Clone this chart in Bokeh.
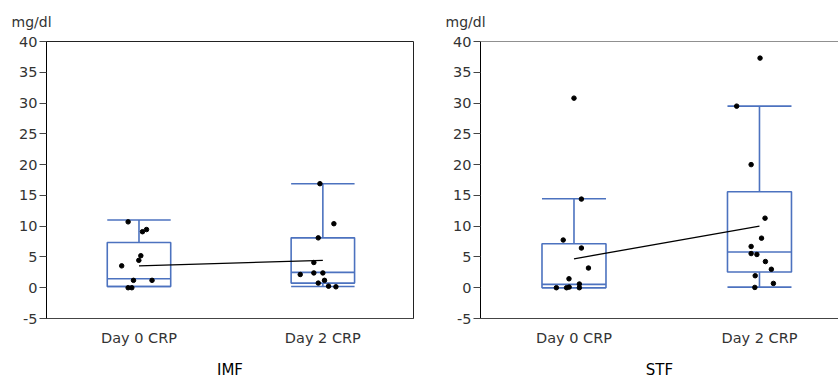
from bokeh.plotting import figure
from bokeh.models import Range1d, FixedTicker, Span
from bokeh.layouts import row
from bokeh.embed import file_html
from bokeh.resources import INLINE

# ---------------- data ----------------
categories = ["Day 0 CRP", "Day 2 CRP"]
y_ticks = [-5, 0, 5, 10, 15, 20, 25, 30, 35, 40]
unit_label = "mg/dl"
group_names = ["IMF", "STF"]

# individual values (mg/dl) and horizontal jitter (category units)
imf_day0 = [10.7, 9.1, 9.45, 5.2, 4.45, 3.55, 1.2, 1.2, 0.0, 0.0]
imf_day0_jit = [-0.059, 0.019, 0.041, 0.010, -0.001, -0.094, -0.030, 0.071, -0.059, -0.039]
imf_day2 = [16.9, 10.4, 8.1, 4.1, 2.15, 2.4, 2.4, 1.2, 0.75, 0.25, 0.15]
imf_day2_jit = [-0.016, 0.060, -0.025, -0.049, -0.123, -0.049, 0.0, 0.009, -0.025, 0.031, 0.071]

stf_day0 = [30.8, 14.4, 7.75, 6.45, 3.2, 1.45, 0.6, 0.0, 0.0, 0.1, 0.0]
stf_day0_jit = [0.0, 0.040, -0.058, 0.040, 0.078, -0.027, 0.029, -0.095, -0.040, -0.026, 0.029]
stf_day2 = [37.3, 29.5, 20.0, 11.3, 8.05, 6.7, 5.55, 5.4, 4.25, 3.0, 1.95, 0.7, 0.05]
stf_day2_jit = [0.003, -0.123, -0.045, 0.030, 0.011, -0.045, -0.045, -0.014, 0.032, 0.064, -0.023, 0.075, -0.025]

# box statistics per category
imf_q1 = [0.2, 0.75]
imf_med = [1.45, 2.5]
imf_q3 = [7.35, 8.1]
imf_lo = [0.2, 0.2]
imf_hi = [11.0, 16.9]
imf_mean = [3.55, 4.45]

stf_q1 = [0.0, 2.55]
stf_med = [0.55, 5.8]
stf_q3 = [7.15, 15.6]
stf_lo = [0.0, 0.1]
stf_hi = [14.45, 29.5]
stf_mean = [4.7, 10.0]

# ---------------- style ----------------
BLUE = "#4C72BF"
FONT = "DejaVu Sans"
BOX_W = 0.345


def make_panel(name, d0, j0, d2, j2, q1, med, q3, lo, hi, mean,
               width, x_start, x_end, border_left, border_right, outline):
    p = figure(width=width, height=381,
               x_range=Range1d(x_start, x_end), y_range=Range1d(-5, 40),
               output_backend="svg", toolbar_location=None,
               min_border_left=border_left, min_border_right=border_right,
               min_border_top=41, min_border_bottom=61,
               title=unit_label)
    p.background_fill_color = "white"
    p.border_fill_color = "white"
    p.grid.visible = False
    if outline:
        p.outline_line_color = "#222222"
        p.outline_line_width = 1
    else:
        p.outline_line_color = None
        p.add_layout(Span(location=40, dimension="width", line_color="#222222", line_width=1))

    p.title.text_font = FONT
    p.title.text_font_size = "14px"
    p.title.text_font_style = "normal"
    p.title.text_color = "#333333"
    p.title.align = "left"
    p.title.offset = -35
    p.title.standoff = 23

    xs = list(range(len(categories)))
    half = BOX_W / 2

    # whiskers
    p.segment(x0=xs, y0=q3, x1=xs, y1=hi, line_color=BLUE, line_width=1.6)
    p.segment(x0=xs, y0=q1, x1=xs, y1=lo, line_color=BLUE, line_width=1.6)
    p.segment(x0=[x - half for x in xs], y0=hi, x1=[x + half for x in xs], y1=hi,
              line_color=BLUE, line_width=1.6)
    p.segment(x0=[x - half for x in xs], y0=lo, x1=[x + half for x in xs], y1=lo,
              line_color=BLUE, line_width=1.6)
    # boxes
    p.vbar(x=xs, top=q3, bottom=q1, width=BOX_W, fill_color=None,
           line_color=BLUE, line_width=1.6)
    p.segment(x0=[x - half for x in xs], y0=med, x1=[x + half for x in xs], y1=med,
              line_color=BLUE, line_width=1.6)

    # mean line
    p.line(x=xs, y=mean, line_color="black", line_width=1.3)

    # points
    px = [xs[0] + j for j in j0] + [xs[1] + j for j in j2]
    py = list(d0) + list(d2)
    p.scatter(x=px, y=py, size=4.5, fill_color="black", line_color="black")

    # x axis
    p.xaxis.ticker = FixedTicker(ticks=xs)
    p.xaxis.major_label_overrides = {x: c for x, c in zip(xs, categories)}
    p.xaxis.major_tick_out = 0
    p.xaxis.major_tick_in = 0
    p.xaxis.minor_tick_out = 0
    p.xaxis.minor_tick_in = 0
    p.xaxis.axis_line_color = "#444444"
    p.xaxis.major_label_text_font = FONT
    p.xaxis.major_label_text_font_size = "14.5px"
    p.xaxis.major_label_text_color = "#333333"
    p.xaxis.major_label_standoff = 11
    p.xaxis.axis_label = name
    p.xaxis.axis_label_text_font = FONT
    p.xaxis.axis_label_text_font_size = "15px"
    p.xaxis.axis_label_text_font_style = "normal"
    p.xaxis.axis_label_text_color = "black"
    p.xaxis.axis_label_standoff = 12

    # y axis
    p.yaxis.ticker = FixedTicker(ticks=y_ticks)
    p.yaxis.major_label_overrides = {t: str(t) for t in y_ticks}
    p.yaxis.major_tick_out = 7
    p.yaxis.major_tick_in = 0
    p.yaxis.minor_tick_out = 0
    p.yaxis.minor_tick_in = 0
    p.yaxis.axis_line_color = "black"
    p.yaxis.major_tick_line_color = "#444444"
    p.yaxis.major_label_text_font = FONT
    p.yaxis.major_label_text_font_size = "14.5px"
    p.yaxis.major_label_text_color = "#333333"
    p.yaxis.major_label_standoff = 2
    return p


p1 = make_panel(group_names[0], imf_day0, imf_day0_jit, imf_day2, imf_day2_jit,
                imf_q1, imf_med, imf_q3, imf_lo, imf_hi, imf_mean,
                width=420, x_start=-0.503, x_end=1.493,
                border_left=46, border_right=7, outline=True)
p2 = make_panel(group_names[1], stf_day0, stf_day0_jit, stf_day2, stf_day2_jit,
                stf_q1, stf_med, stf_q3, stf_lo, stf_hi, stf_mean,
                width=418, x_start=-0.504, x_end=1.426,
                border_left=60, border_right=0, outline=False)

layout = row(p1, p2)
open("out.html", "w").write(file_html(layout, INLINE))
